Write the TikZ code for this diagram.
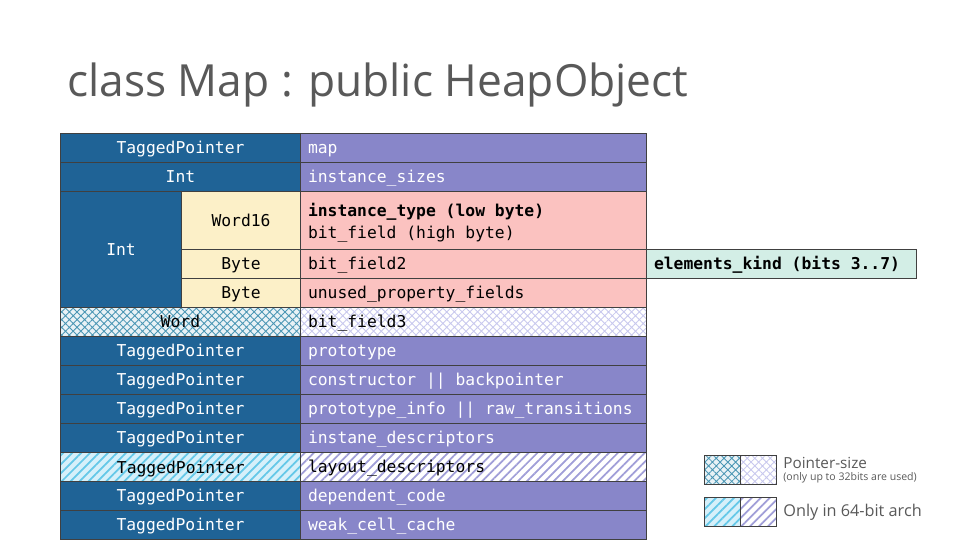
\documentclass[tikz,border=0pt]{standalone}
\usepackage{fontspec}
\setmainfont{Open Sans}
\setmonofont{DejaVu Sans Mono}
\usetikzlibrary{patterns.meta}
\definecolor{ptrblue}{RGB}{31,99,150}
\definecolor{fldpurple}{RGB}{136,134,201}
\definecolor{bytepink}{RGB}{251,194,192}
\definecolor{subcream}{RGB}{252,240,200}
\definecolor{kindteal}{RGB}{211,238,230}
\definecolor{gridline}{RGB}{64,64,64}
\definecolor{titlegray}{RGB}{89,89,89}
\definecolor{hatchteal}{RGB}{74,150,180}
\definecolor{hatchlilac}{RGB}{200,200,238}
\definecolor{stripecyan}{RGB}{100,200,232}
\definecolor{stripelilac}{RGB}{160,158,216}
\definecolor{cyanback}{RGB}{214,240,250}

\begin{document}
\begin{tikzpicture}[x=0.02cm,y=-0.02cm,
  cell/.style={draw=gridline, line width=0.6pt, anchor=north west, inner sep=0pt,
    minimum height=0.58cm,
    execute at begin node={\spaceskip=0.602em\relax\rule[-2.85pt]{0pt}{12.5pt}},
    font=\ttfamily\fontsize{9.3}{12.5}\selectfont},
  ptr/.style={cell, fill=ptrblue, text=white, minimum width=4.8cm},
  sub/.style={cell, fill=subcream, text=black, minimum width=2.38cm},
  fld/.style={cell, fill=fldpurple, text=white, minimum width=6.92cm,
    text width=6.62cm, align=left, inner xsep=0.15cm},
  pnk/.style={fld, fill=bytepink, text=black},
  crossL/.style={preaction={fill=hatchteal!12},
    pattern={Hatch[angle=45,distance=3.1pt,line width=0.5pt]}, pattern color=hatchteal},
  crossR/.style={preaction={fill=white},
    pattern={Hatch[angle=45,distance=3.1pt,line width=0.5pt]}, pattern color=hatchlilac},
  stripeL/.style={preaction={fill=cyanback},
    pattern={Lines[angle=45,distance=3.6pt,line width=1pt]}, pattern color=stripecyan},
  stripeR/.style={preaction={fill=white},
    pattern={Lines[angle=45,distance=3.6pt,line width=1pt]}, pattern color=stripelilac},
  note/.style={anchor=west, inner sep=0pt, text=titlegray}]
\useasboundingbox (0,0) rectangle (953,543);

% title
\node[anchor=base west, inner sep=0pt, text=titlegray, font=\fontsize{25.2}{28}\selectfont]
  (title) at (67,97) {class Map : public HeapObject};

% header words
\node[ptr] (map t) at (60,133) {TaggedPointer};
\node[fld] (map f) at (300,133) {map};
\node[ptr] (isz t) at (60,162) {Int};
\node[fld] (isz f) at (300,162) {instance\_sizes};

% the packed int
\node[ptr, minimum width=2.42cm, minimum height=2.32cm] (int t) at (60,191) {Int};
\node[sub, minimum height=1.16cm] (w16 t) at (181,191) {Word16};
\node[pnk, minimum height=1.16cm] (w16 f) at (300,191)
  {\textbf{instance\_type (low byte)}\\bit\_field (high byte)};
\node[sub] (bf2 t) at (181,249) {Byte};
\node[pnk] (bf2 f) at (300,249) {bit\_field2};
\node[cell, fill=kindteal, minimum width=5.4cm, text width=5.1cm, align=left,
  inner xsep=0.15cm] (kind) at (646,249) {\textbf{elements\_kind (bits 3..7)}};
\node[sub] (upf t) at (181,278) {Byte};
\node[pnk] (upf f) at (300,278) {unused\_property\_fields};

% pointer-size word
\node[ptr, crossL, text=black] (bf3 t) at (60,307) {Word};
\node[fld, crossR, text=black] (bf3 f) at (300,307) {bit\_field3};

% tagged pointers
\node[ptr] (pro t) at (60,336) {TaggedPointer};
\node[fld] (pro f) at (300,336) {prototype};
\node[ptr] (con t) at (60,365) {TaggedPointer};
\node[fld] (con f) at (300,365) {constructor || backpointer};
\node[ptr] (pin t) at (60,394) {TaggedPointer};
\node[fld] (pin f) at (300,394) {prototype\_info || raw\_transitions};
\node[ptr] (ids t) at (60,423) {TaggedPointer};
\node[fld] (ids f) at (300,423) {instane\_descriptors};
\node[ptr, stripeL, text=black] (lds t) at (60,452) {TaggedPointer};
\node[fld, stripeR, text=black] (lds f) at (300,452) {layout\_descriptors};
\node[ptr] (dep t) at (60,481) {TaggedPointer};
\node[fld] (dep f) at (300,481) {dependent\_code};
\node[ptr] (wcc t) at (60,510) {TaggedPointer};
\node[fld] (wcc f) at (300,510) {weak\_cell\_cache};

% legend
\node[cell, crossL, minimum width=0.72cm] (lg1 a) at (704,455) {};
\node[cell, crossR, minimum width=0.72cm] (lg1 b) at (740,455) {};
\node[note, font=\fontsize{8.7}{10}\selectfont] (lg1 t) at (783,463) {Pointer-size};
\node[note, font=\fontsize{6}{7}\selectfont] (lg1 s) at (783,478) {(only up to 32bits are used)};
\node[cell, stripeL, minimum width=0.72cm] (lg2 a) at (704,497) {};
\node[cell, stripeR, minimum width=0.72cm] (lg2 b) at (740,497) {};
\node[note, font=\fontsize{9.25}{11}\selectfont] (lg2 t) at (783,512) {Only in 64-bit arch};
\end{tikzpicture}
\end{document}
